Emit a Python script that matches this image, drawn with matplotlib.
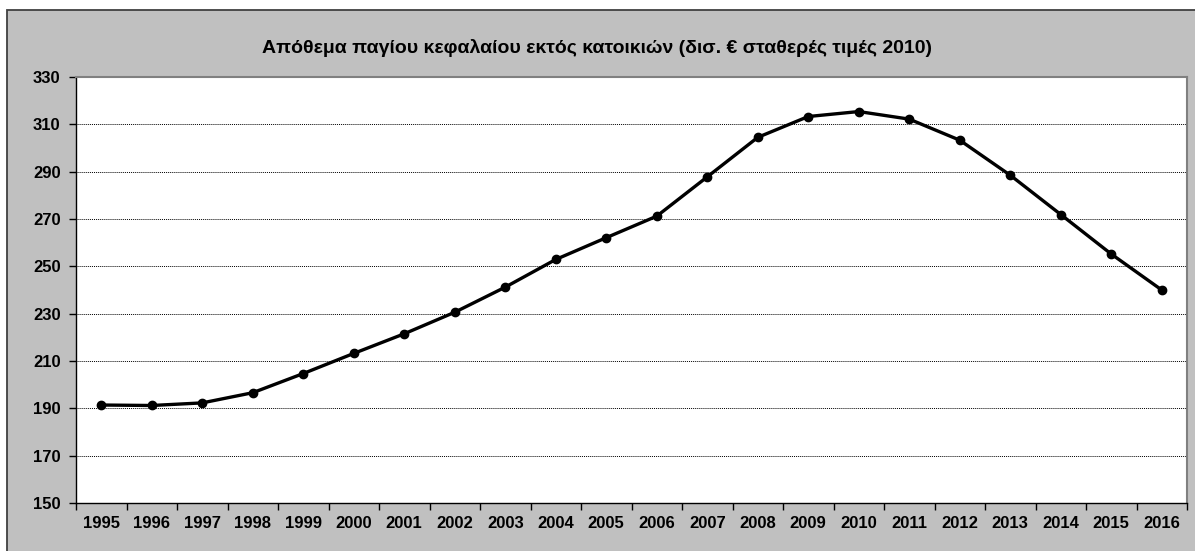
import matplotlib
matplotlib.use("Agg")
import matplotlib.pyplot as plt
from matplotlib.patches import Rectangle

plt.rcParams['font.family'] = ['Liberation Sans', 'DejaVu Sans']

years = [str(y) for y in range(1995, 2017)]
capital_stock = [191.4, 191.2, 192.3, 196.6, 204.7, 213.2, 221.5, 230.6, 241.2,
                 252.9, 262.1, 271.2, 287.8, 304.5, 313.3, 315.4, 312.2, 303.3,
                 288.5, 271.9, 255.2, 240.0]
y_ticks = [150, 170, 190, 210, 230, 250, 270, 290, 310, 330]
title = "Απόθεμα παγίου κεφαλαίου εκτός κατοικιών (δισ. € σταθερές τιμές 2010)"

W, H = 1195, 551
fig = plt.figure(figsize=(W / 100, H / 100), dpi=100)
fig.patch.set_facecolor('white')

# grey chart frame
fig.patches.append(Rectangle((7 / W, -0.01), 1.02 - 7 / W, 1.01 - 10 / H,
                             transform=fig.transFigure, facecolor='#C0C0C0',
                             edgecolor='#404040', linewidth=1.3, zorder=-5))

ax = fig.add_axes([76 / W, 1 - 503 / H, (1187 - 76) / W, (503 - 77) / H])
ax.set_zorder(1)
ax.set_facecolor('white')

x = range(len(years))
ax.plot(x, capital_stock, color='black', linewidth=2.4, marker='o',
        markersize=6, zorder=3, clip_on=False)

ax.set_xlim(-0.5, len(years) - 0.5)
ax.set_ylim(150, 330)
ax.set_yticks(y_ticks)
ax.set_yticklabels([str(v) for v in y_ticks], fontsize=12, fontweight='bold')
ax.set_xticks(list(x))
ax.set_xticklabels(years, fontsize=12, fontweight='bold')
ax.set_xticks([i - 0.5 for i in range(len(years) + 1)], minor=True)

ax.tick_params(axis='x', which='major', length=0, pad=9)
ax.tick_params(axis='x', which='minor', length=5, width=1, color='black')
ax.tick_params(axis='y', length=5, width=1, color='black', pad=6)

for v in y_ticks[1:-1]:
    ax.axhline(v, color='black', linestyle=(0, (1, 1)), linewidth=0.7, zorder=1)

for side in ('left', 'bottom'):
    ax.spines[side].set_color('black')
    ax.spines[side].set_linewidth(1.0)
for side in ('top', 'right'):
    ax.spines[side].set_color('#808080')
    ax.spines[side].set_linewidth(1.5)

fig.text(0.5, 1 - 48 / H, title, ha='center', va='center',
         fontsize=14, fontweight='bold')

fig.savefig('out.png', dpi=100)
